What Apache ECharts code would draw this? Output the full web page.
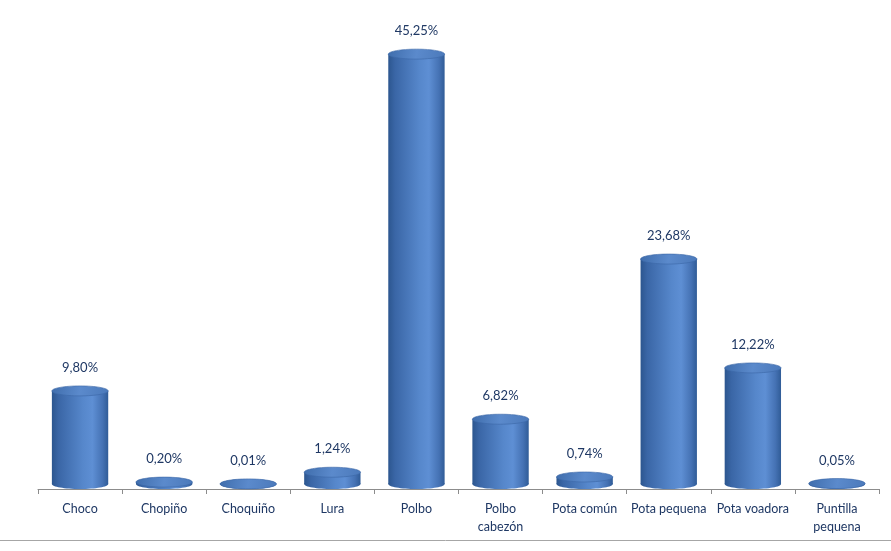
<!DOCTYPE html>
<html><head><meta charset="utf-8">
<script src="https://cdn.jsdelivr.net/npm/echarts@6/dist/echarts.min.js"></script>
<style>html,body{margin:0;padding:0;background:#fff}#c{width:891px;height:551px}</style>
</head><body><div id="c"></div>
<script>
const categories = ['Choco','Chopiño','Choquiño','Lura','Polbo','Polbo\ncabezón','Pota común','Pota pequena','Pota voadora','Puntilla\npequena'];
const values = [9.80, 0.20, 0.01, 1.24, 45.25, 6.82, 0.74, 23.68, 12.22, 0.05];
const valueLabels = ['9,80%','0,20%','0,01%','1,24%','45,25%','6,82%','0,74%','23,68%','12,22%','0,05%'];

const chart = echarts.init(document.getElementById('c'), null, {renderer:'canvas'});
const FONT = 'Lato, "Open Sans", sans-serif';
const bodyGrad = new echarts.graphic.LinearGradient(0,0,1,0,[
  {offset:0,color:'#2C568F'},{offset:0.12,color:'#3A66A6'},{offset:0.55,color:'#5687CB'},
  {offset:0.72,color:'#5E8FD4'},{offset:0.9,color:'#4572B4'},{offset:1,color:'#305C97'}]);
const topGrad = new echarts.graphic.LinearGradient(0,0,1,1,[
  {offset:0,color:'#3F6DAC'},{offset:0.5,color:'#5B8ACC'},{offset:1,color:'#4B79BA'}]);

chart.setOption({
  animation:false,
  grid:{left:38,right:12,top:14,bottom:62},
  xAxis:{type:'category',data:categories,
    axisLine:{lineStyle:{color:'#8C8C8C',width:1}},
    axisTick:{show:true,length:5,lineStyle:{color:'#8C8C8C'}},
    axisLabel:{color:'#1F3864',fontFamily:FONT,fontSize:12.5,margin:11,lineHeight:18,interval:0}},
  yAxis:{type:'value',min:0,max:50,show:false,splitLine:{show:false}},
  series:[{type:'custom',data:values.map((v,i)=>[i,v]),
    renderItem:function(params,api){
      const i=api.value(0), v=api.value(1);
      const base=api.coord([i,0]), top=api.coord([i,v]);
      const w=api.size([1,0])[0]*0.67, rx=w/2, ry=5;
      const cx=base[0], by=base[1]-ry, ty=top[1]-ry;
      return {type:'group',children:[
        {type:'ellipse',shape:{cx:cx,cy:by,rx:rx,ry:ry},style:{fill:bodyGrad}},
        {type:'rect',shape:{x:cx-rx,y:ty,width:w,height:by-ty},style:{fill:bodyGrad}},
        {type:'ellipse',shape:{cx:cx,cy:ty,rx:rx,ry:ry},style:{fill:topGrad,stroke:'#3A67A6',lineWidth:0.6}},
        {type:'text',style:{text:valueLabels[i],x:cx,y:ty-ry-18,align:'center',verticalAlign:'middle',
          fill:'#1F3864',font:'13px '+FONT}}
      ]};
    }}],
  graphic:[{type:'line',shape:{x1:0,y1:540.5,x2:891,y2:540.5},style:{stroke:'#A6A6A6',lineWidth:1}}]
});
</script></body></html>
